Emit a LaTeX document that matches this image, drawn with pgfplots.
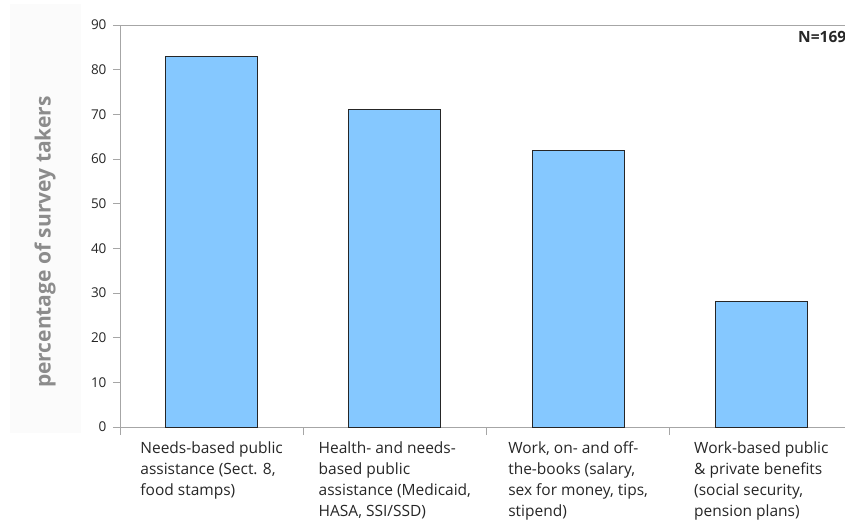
\documentclass[border=0pt]{standalone}
\usepackage{pgfplots}
\pgfplotsset{compat=1.18}
\usepackage{fontspec}
\setmainfont{Open Sans}
\definecolor{barblue}{HTML}{85C8FF}
\definecolor{axgray}{HTML}{A6A6A6}
\definecolor{lblgray}{HTML}{8C8C8C}
\definecolor{txt}{HTML}{262626}
\begin{document}
\begin{tikzpicture}[x=1pt,y=1pt]
\useasboundingbox (0,0) rectangle (845,523);
\clip (0,0) rectangle (845,523);
\fill[black!1.5] (10,90) rectangle (81,519);
\begin{axis}[
  at={(120pt,96pt)}, anchor=south west,
  scale only axis, width=733pt, height=402pt,
  xmin=-0.5, xmax=3.5, ymin=0, ymax=90,
  axis lines*=left,
  axis line style={axgray, line width=0.9pt},
  tick style={axgray, line width=0.9pt},
  tick align=outside,
  major tick length=7pt,
  ytick={0,10,...,90},
  yticklabel style={font=\fontsize{13.5}{15}\selectfont, text=txt, xshift=-3pt},
  /pgf/number format/assume math mode=true,
  xtick={0,1,2,3},
  major x tick style={draw=none},
  minor xtick={-0.5,0.5,1.5,2.5,3.5},
  minor x tick style={axgray, line width=0.9pt},
  minor tick length=8pt,
  xticklabels={{Needs-based public\\assistance (Sect. 8,\\food stamps)},
               {Health- and needs-\\based public\\assistance (Medicaid,\\HASA, SSI/SSD)},
               {Work, on- and off-\\the-books (salary,\\sex for money, tips,\\stipend)},
               {Work-based public\\\& private benefits\\(social security,\\pension plans)}},
  xticklabel style={align=left, anchor=north, font=\fontsize{15.5}{21}\selectfont, text=txt, yshift=-4pt},
  ylabel={percentage of survey takers},
  ylabel style={at={(rel axis cs:-0.1023,0.46)}, anchor=center, rotate=0, font=\bfseries\fontsize{21}{24}\selectfont, text=lblgray},
  clip=false,
]
\addplot[ybar, bar width=92pt, fill=barblue, draw=black!85, line width=1pt] coordinates {
  (0,83) (1,71) (2,62) (3,28)
};
\draw[axgray, line width=0.9pt] (rel axis cs:0,1) -- (rel axis cs:1,1);
\end{axis}
\node[anchor=base west, inner sep=0pt, font=\bfseries\fontsize{15.5}{17}\selectfont, text=txt] at (798,523-43) {N=169};
\end{tikzpicture}
\end{document}
